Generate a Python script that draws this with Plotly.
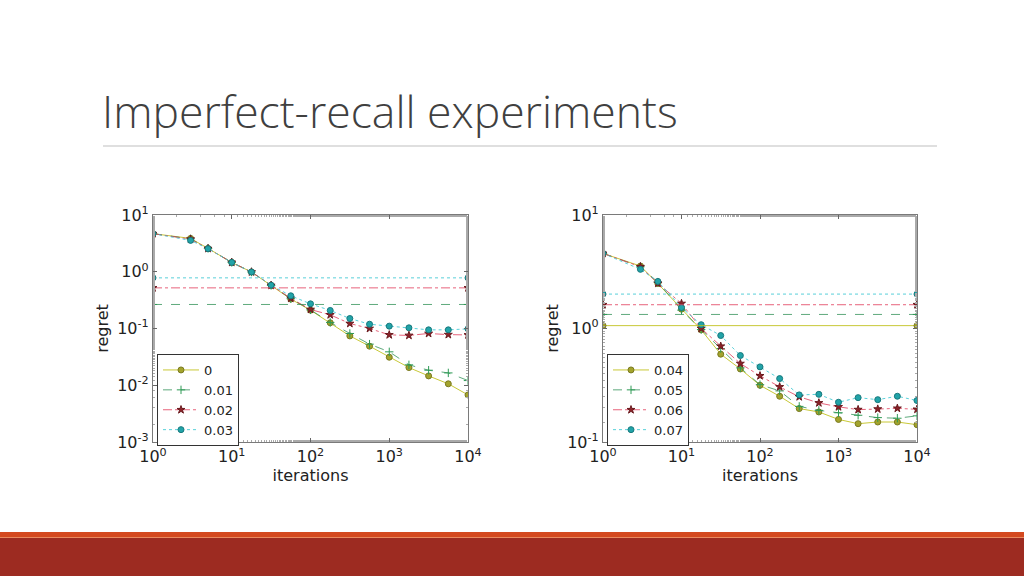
import plotly.graph_objects as go

iterations = [1, 3, 5, 10, 17.8, 31.6, 56.2, 100, 178, 316, 562, 1000, 1778, 3162, 5623, 10000]

# Left panel
left_labels = ["0", "0.01", "0.02", "0.03"]
left_series = [
    [4.69, 3.87, 2.58, 1.46, 0.99, 0.574, 0.33, 0.21, 0.126, 0.074, 0.0488, 0.0312, 0.0205, 0.0146, 0.0106, 0.00675],
    [4.69, 3.80, 2.58, 1.46, 0.99, 0.574, 0.335, 0.213, 0.128, 0.0817, 0.053, 0.0388, 0.0229, 0.0184, 0.0165, 0.0121],
    [4.69, 3.75, 2.56, 1.46, 0.99, 0.574, 0.34, 0.216, 0.174, 0.1225, 0.100, 0.0773, 0.0755, 0.0817, 0.078, 0.077],
    [4.69, 3.57, 2.55, 1.46, 0.99, 0.58, 0.377, 0.272, 0.208, 0.150, 0.119, 0.110, 0.1028, 0.0947, 0.0947, 0.0986],
]
left_bounds = [None, 0.265, 0.52, 0.78]

# Right panel
right_labels = ["0.04", "0.05", "0.06", "0.07"]
right_series = [
    [4.59, 3.55, 2.49, 1.48, 0.973, 0.594, 0.44, 0.316, 0.253, 0.197, 0.184, 0.158, 0.145, 0.150, 0.150, 0.142],
    [4.59, 3.50, 2.56, 1.45, 0.98, 0.666, 0.45, 0.32, 0.282, 0.206, 0.190, 0.181, 0.172, 0.164, 0.162, 0.170],
    [4.59, 3.50, 2.50, 1.66, 1.00, 0.698, 0.491, 0.383, 0.306, 0.250, 0.221, 0.204, 0.193, 0.195, 0.198, 0.194],
    [4.59, 3.32, 2.60, 1.53, 1.08, 0.867, 0.578, 0.459, 0.362, 0.260, 0.263, 0.224, 0.246, 0.236, 0.253, 0.232],
]
right_bounds = [1.06, 1.33, 1.62, 2.01]

x_tick_vals = [1, 10, 100, 1000, 10000]
x_tick_text = ["10<sup>0</sup>", "10<sup>1</sup>", "10<sup>2</sup>", "10<sup>3</sup>", "10<sup>4</sup>"]
left_y_vals = [0.001, 0.01, 0.1, 1, 10]
left_y_text = ["10<sup>-3</sup>", "10<sup>-2</sup>", "10<sup>-1</sup>", "10<sup>0</sup>", "10<sup>1</sup>"]
right_y_vals = [0.1, 1, 10]
right_y_text = ["10<sup>-1</sup>", "10<sup>0</sup>", "10<sup>1</sup>"]

styles = [
    dict(line="rgba(190,190,20,0.85)", dash="solid", symbol="circle", mcolor="#a3a32c", medge="#7a7a20", size=6),
    dict(line="rgba(40,140,80,0.75)", dash="dash", symbol="cross-thin", mcolor="#2e9a55", medge="#2e9a55", size=6),
    dict(line="rgba(225,60,90,0.8)", dash="dashdot", symbol="star", mcolor="#8b2228", medge="#6a1a1e", size=6),
    dict(line="rgba(60,200,210,0.85)", dash="dot", symbol="circle", mcolor="#22a3a8", medge="#17797d", size=6),
]

fig = go.Figure()

def add_panel(xa, ya, labels, series, bounds, legend):
    for i, (lab, vals) in enumerate(zip(labels, series)):
        st = styles[i]
        fig.add_trace(go.Scatter(
            x=iterations, y=vals, name=lab, mode="lines+markers",
            xaxis=xa, yaxis=ya, legend=legend,
            line=dict(color=st["line"], dash=st["dash"], width=1),
            marker=dict(symbol=st["symbol"], size=st["size"], color=st["mcolor"],
                        line=dict(color=st["medge"], width=1)),
        ))
    for i, b in enumerate(bounds):
        if b is None:
            continue
        st = styles[i]
        fig.add_trace(go.Scatter(
            x=[iterations[0], iterations[-1]], y=[b, b], mode="lines+markers",
            xaxis=xa, yaxis=ya, showlegend=False,
            line=dict(color=st["line"], dash=st["dash"], width=1),
            marker=dict(symbol=st["symbol"], size=st["size"], color=st["mcolor"],
                        line=dict(color=st["medge"], width=1)),
        ))

add_panel("x", "y", left_labels, left_series, left_bounds, "legend")
add_panel("x2", "y2", right_labels, right_series, right_bounds, "legend2")

W, H = 1024, 576
def px(v): return v / W
def py(v): return 1 - v / H

label_font = dict(family="DejaVu Sans", size=16, color="#222222")
axis_common = dict(
    type="log", showgrid=False, zeroline=False, showline=True, linecolor="#7a7a7a", linewidth=1.2,
    mirror="allticks", ticks="inside", ticklen=4, tickcolor="#666666", automargin=False,
    minor=dict(ticks="inside", ticklen=2, tickcolor="#aaaaaa", showgrid=False),
    tickfont=dict(family="DejaVu Sans", size=16, color="#222222"),
)

fig.update_layout(
    width=W, height=H, autosize=False,
    margin=dict(l=0, r=0, t=0, b=0, pad=0, autoexpand=False),
    paper_bgcolor="white", plot_bgcolor="white",
    xaxis=dict(axis_common, domain=[px(153), px(468)], range=[0, 4], anchor="y",
               tickvals=x_tick_vals, ticktext=x_tick_text,
               title=dict(text="iterations", font=label_font, standoff=0)),
    yaxis=dict(axis_common, domain=[py(442), py(215)], range=[-3, 1], anchor="x",
               tickvals=left_y_vals, ticktext=left_y_text,
               title=dict(text="regret", font=label_font, standoff=4)),
    xaxis2=dict(axis_common, domain=[px(603), px(917)], range=[0, 4], anchor="y2",
                tickvals=x_tick_vals, ticktext=x_tick_text,
                title=dict(text="iterations", font=label_font, standoff=0)),
    yaxis2=dict(axis_common, domain=[py(442), py(215)], range=[-1, 1], anchor="x2",
                tickvals=right_y_vals, ticktext=right_y_text,
                title=dict(text="regret", font=label_font, standoff=4)),
    legend=dict(x=px(157), y=py(354), xanchor="left", yanchor="top",
                bgcolor="white", bordercolor="#333333", borderwidth=1,
                font=dict(family="DejaVu Sans", size=13, color="#222222"),
                tracegroupgap=0, itemwidth=36),
    legend2=dict(x=px(607), y=py(354), xanchor="left", yanchor="top",
                 bgcolor="white", bordercolor="#333333", borderwidth=1,
                 font=dict(family="DejaVu Sans", size=13, color="#222222"),
                 tracegroupgap=0, itemwidth=36),
    showlegend=True,
)

# Slide title
fig.add_annotation(
    x=px(100), y=py(78), xref="paper", yref="paper", xanchor="left", yanchor="top",
    text="Imperfect-recall experiments", showarrow=False,
    font=dict(family="Open Sans", size=44.5, color="#404040", weight=300),
)

# Rule under title
fig.add_shape(type="line", xref="paper", yref="paper",
              x0=px(103), x1=px(937), y0=py(146), y1=py(146),
              line=dict(color="#d4d4d4", width=1.5))

# Bottom band
fig.add_shape(type="rect", xref="paper", yref="paper", x0=0, x1=1, y0=py(537), y1=py(532),
              line=dict(width=0), fillcolor="#d4491f")
fig.add_shape(type="rect", xref="paper", yref="paper", x0=0, x1=1, y0=py(538), y1=py(537),
              line=dict(width=0), fillcolor="#e98a5f")
fig.add_shape(type="rect", xref="paper", yref="paper", x0=0, x1=1, y0=0, y1=py(538),
              line=dict(width=0), fillcolor="#9d2b21")

fig.write_html("out.html", config={"displayModeBar": False},
               post_script="document.body.style.margin='0px';document.body.style.overflow='hidden';")
